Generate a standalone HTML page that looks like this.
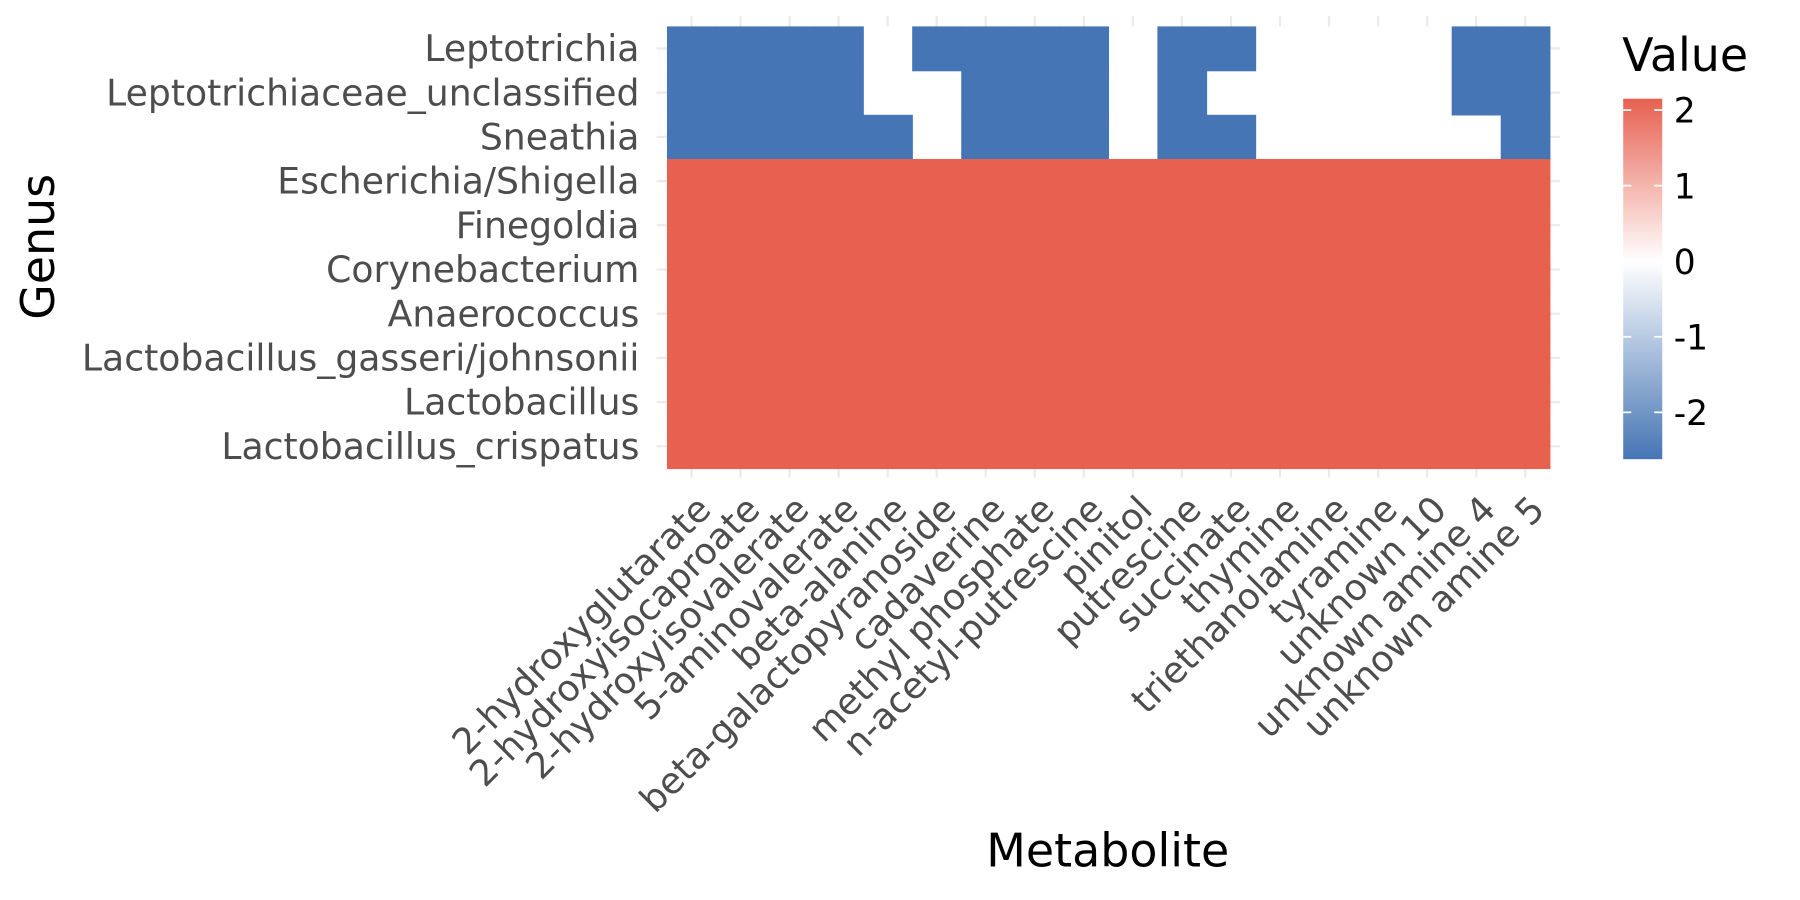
<!DOCTYPE html>
<html><head><meta charset="utf-8"><style>
html,body{margin:0;padding:0;background:#fff;}
svg{display:block;font-family:"DejaVu Sans","Liberation Sans",sans-serif;}
</style></head><body>
<svg id="chart" width="1800" height="900" viewBox="0 0 1568 784">
<defs>
<linearGradient id="lg" x1="0" y1="1" x2="0" y2="0">
<stop offset="0" stop-color="#4575B4"/>
<stop offset="0.548" stop-color="#ffffff"/>
<stop offset="1" stop-color="#E76050"/>
</linearGradient>
</defs>
<g id="grid"></g>
<g id="tiles"></g>
<g id="ylabels"></g>
<g id="xlabels"></g>
<text x="47" y="215" font-size="40" fill="#000" text-anchor="middle" transform="rotate(-90 47 215)">Genus</text>
<text x="965" y="755" font-size="40" fill="#000" text-anchor="middle">Metabolite</text>
<g>
<text x="1413" y="62" font-size="40" fill="#000">Value</text>
<rect x="1414" y="86" width="34" height="314" fill="url(#lg)"/>
<g id="legticks"></g>
</g>
</svg>
<script>
const genera = ["Leptotrichia","Leptotrichiaceae_unclassified","Sneathia","Escherichia/Shigella","Finegoldia","Corynebacterium","Anaerococcus","Lactobacillus_gasseri/johnsonii","Lactobacillus","Lactobacillus_crispatus"];
const metabolites = ["2-hydroxyglutarate","2-hydroxyisocaproate","2-hydroxyisovalerate","5-aminovalerate","beta-alanine","beta-galactopyranoside","cadaverine","methyl phosphate","n-acetyl-putrescine","pinitol","putrescine","succinate","thymine","triethanolamine","tyramine","unknown 10","unknown amine 4","unknown amine 5"];
const B = -2.6, R = 2.1, N = null;
const rowLeptotrichia = [B,B,B,B,N,B,B,B,B,N,B,B,N,N,N,N,B,B];
const rowLeptoUnclass = [B,B,B,B,N,N,B,B,B,N,B,N,N,N,N,N,B,B];
const rowSneathia = [B,B,B,B,B,N,B,B,B,N,B,B,N,N,N,N,N,B];
const rowRed = [R,R,R,R,R,R,R,R,R,R,R,R,R,R,R,R,R,R];
const values = [rowLeptotrichia,rowLeptoUnclass,rowSneathia,rowRed,rowRed,rowRed,rowRed,rowRed,rowRed,rowRed];
const legendTicks = [2,1,0,-1,-2];

const X0=581, X1=1350, Y0=23, Y1=408;
const cw=(X1-X0)/metabolites.length, rh=(Y1-Y0)/genera.length;
const xPos=i=>X0+i*cw, yPos=j=>Y0+j*rh;
const vmin=-2.62, vmax=2.15, LT=86, LB=400;
const legY=v=>LB-(v-vmin)/(vmax-vmin)*(LB-LT);
function lerp(a,b,t){return a.map((x,i)=>Math.round(x+(b[i]-x)*t));}
function color(v){
  const lo=[69,117,180], mid=[255,255,255], hi=[231,96,80];
  let c = v<0 ? lerp(mid,lo,Math.min(1,-v/2.6)) : lerp(mid,hi,Math.min(1,v/2.1));
  return `rgb(${c[0]},${c[1]},${c[2]})`;
}
const NS="http://www.w3.org/2000/svg";
function mk(t,a,p){const e=document.createElementNS(NS,t);for(const k in a)e.setAttribute(k,a[k]);p.appendChild(e);return e;}
const grid=document.getElementById('grid');
metabolites.forEach((m,i)=>{
  const x=xPos(i)+cw/2;
  const l=mk('path',{d:`M${x},14V${Y0}M${x},${Y1}V416`,stroke:'#ebebeb','stroke-width':2},grid);
  
  
});
genera.forEach((g,j)=>{
  const y=yPos(j)+rh/2;
  const l=mk('path',{d:`M572,${y}H${X0}M${X1},${y}H1359`,stroke:'#ebebeb','stroke-width':2},grid);
  
  
});
const tiles=document.getElementById('tiles');
values.forEach((row,j)=>row.forEach((v,i)=>{
  if(v===null)return;
  const r=mk('rect',{x:xPos(i),y:yPos(j),width:cw+0.6,height:rh+0.6,fill:color(v)},tiles);
  
  
}));
const yl=document.getElementById('ylabels');
genera.forEach((g,j)=>{
  const t=mk('text',{x:557,y:yPos(j)+rh/2+11,'font-size':31.5,fill:'#4d4d4d','text-anchor':'end'},yl);
  t.textContent=g;
  
  
});
const xl=document.getElementById('xlabels');
metabolites.forEach((m,i)=>{
  const cx=xPos(i)+cw/2+3, cy=430;
  const t=mk('text',{x:cx,y:cy,'font-size':31.5,fill:'#4d4d4d','text-anchor':'end',transform:`rotate(-45 ${cx} ${cy})`,dy:'0.7em'},xl);
  t.textContent=m;
  
  
});
const lt=document.getElementById('legticks');
legendTicks.forEach(v=>{
  const y=legY(v);
  const a=mk('line',{x1:1414,x2:1421,y1:y,y2:y,stroke:'#fff','stroke-width':1.5},lt);
  
  
  const b=mk('line',{x1:1441,x2:1448,y1:y,y2:y,stroke:'#fff','stroke-width':1.5},lt);
  
  
  const t=mk('text',{x:1458,y:y+11,'font-size':30,fill:'#000'},lt);
  t.textContent=String(v);
  
  
});
</script>
</body></html>
